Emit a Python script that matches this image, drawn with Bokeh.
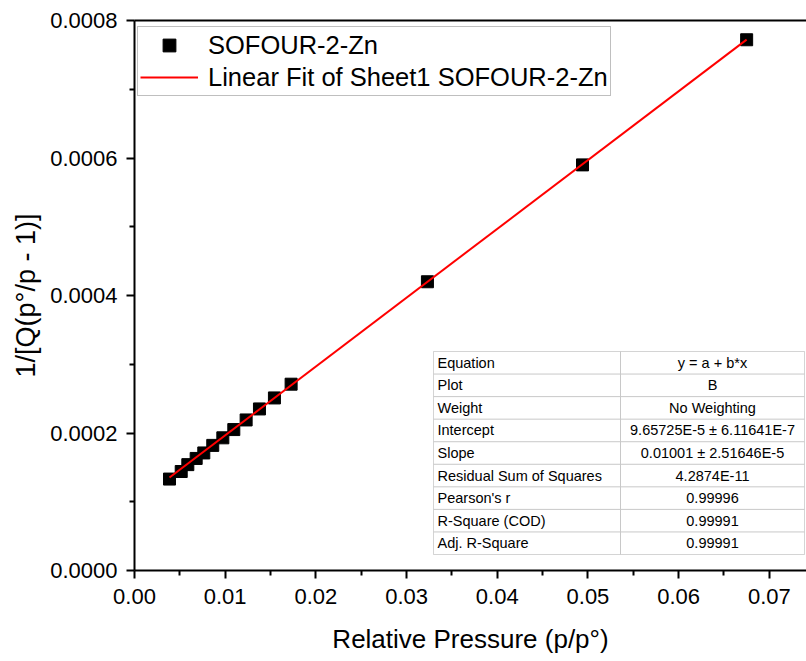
import numpy as np
from bokeh.plotting import figure
from bokeh.models import (Range1d, FixedTicker, LinearAxis, Legend, LegendItem,
                          Label, BoxAnnotation)
from bokeh.embed import file_html
from bokeh.resources import INLINE

# ---------------- data ----------------
series_name = "SOFOUR-2-Zn"
fit_name = "Linear Fit of Sheet1 SOFOUR-2-Zn"
rel_pressure = [0.00386, 0.00515, 0.00588, 0.00680, 0.00764, 0.00863, 0.00974,
                0.01095, 0.01231, 0.01378, 0.01543, 0.01727, 0.0323, 0.0494, 0.0675]
bet_value = [0.000133, 0.000144, 0.000154, 0.000163, 0.000171, 0.000182, 0.000193,
             0.000205, 0.000219, 0.000235, 0.000251, 0.000271, 0.000420, 0.000590, 0.000772]
fit_intercept = 9.65725e-5
fit_slope = 0.01001

x_ticks = [0.0, 0.01, 0.02, 0.03, 0.04, 0.05, 0.06, 0.07]
x_tick_labels = ["0.00", "0.01", "0.02", "0.03", "0.04", "0.05", "0.06", "0.07"]
y_ticks = [0.0, 0.0002, 0.0004, 0.0006, 0.0008]
y_tick_labels = ["0.0000", "0.0002", "0.0004", "0.0006", "0.0008"]

table_names = ["Equation", "Plot", "Weight", "Intercept", "Slope",
               "Residual Sum of Squares", "Pearson's r", "R-Square (COD)", "Adj. R-Square"]
table_values = ["y = a + b*x", "B", "No Weighting", "9.65725E-5 \u00b1 6.11641E-7",
                "0.01001 \u00b1 2.51646E-5", "4.2874E-11", "0.99996", "0.99991", "0.99991"]

# ---------------- layout ----------------
W, H = 806, 661
FL, FR, FT, FB = 134, 806, 20, 570          # frame edges in pixels
X0, X1 = 0.0, 0.0741
Y0, Y1 = 0.0, 0.0008
FONT = "Liberation Sans"

def px2x(px):
    return X0 + (px - FL) / (FR - FL) * (X1 - X0)

def px2y(py):
    return Y0 + (FB - py) / (FB - FT) * (Y1 - Y0)

p = figure(width=W, height=H, x_range=Range1d(X0, X1), y_range=Range1d(Y0, Y1),
           output_backend="svg", toolbar_location=None,
           min_border_left=FL, min_border_right=W - FR,
           min_border_top=FT, min_border_bottom=H - FB)
p.outline_line_color = None
p.xgrid.visible = False
p.ygrid.visible = False
p.background_fill_color = "white"
p.border_fill_color = "white"

def mids(t):
    return [(a + b) / 2 for a, b in zip(t[:-1], t[1:])] + [t[-1] + (t[1] - t[0]) / 2]

for ax, ticks, labels in ((p.xaxis[0], x_ticks, x_tick_labels),
                          (p.yaxis[0], y_ticks, y_tick_labels)):
    ax.ticker = FixedTicker(ticks=ticks, minor_ticks=mids(ticks))
    ax.major_label_overrides = dict(zip(ticks, labels))
    ax.axis_line_width = 2
    ax.major_tick_line_width = 2
    ax.minor_tick_line_width = 2
    ax.major_tick_out = 8
    ax.major_tick_in = 0
    ax.minor_tick_out = 5
    ax.minor_tick_in = 0
    ax.major_label_text_font = FONT
    ax.major_label_text_font_size = "22px"
    ax.major_label_text_color = "black"
    ax.axis_label_text_font = FONT
    ax.axis_label_text_font_style = "normal"
    ax.axis_label_text_color = "black"

p.xaxis.axis_label = "Relative Pressure (p/p\u00b0)"
p.yaxis.axis_label = "1/[Q(p\u00b0/p - 1)]"
p.xaxis.axis_label_text_font_size = "26px"
p.yaxis.axis_label_text_font_size = "27px"
p.xaxis.major_label_standoff = 10
p.xaxis.axis_label_standoff = 17
p.yaxis.major_label_standoff = 9
p.yaxis.axis_label_standoff = 6

top = LinearAxis(ticker=FixedTicker(ticks=[]), major_label_text_font_size="0px",
                 axis_line_width=2, major_tick_out=0, minor_tick_out=0)
p.add_layout(top, "above")

# ---------------- data marks ----------------
r_pts = p.scatter(rel_pressure, bet_value, marker="square", size=12,
                  fill_color="black", line_color="black")
fx = np.array([min(rel_pressure), max(rel_pressure)])
r_fit = p.line(fx, fit_intercept + fit_slope * fx, line_color="red", line_width=2)

legend = Legend(items=[LegendItem(label=series_name, renderers=[r_pts]),
                       LegendItem(label=fit_name, renderers=[r_fit])],
                location=(3, 474), orientation="vertical")
legend.label_text_font = FONT
legend.label_text_font_size = "25.5px"
legend.label_text_color = "black"
legend.label_height = 32
legend.glyph_height = 32
legend.glyph_width = 58
legend.label_standoff = 10
legend.spacing = 0
legend.padding = 2
legend.margin = 0
legend.border_line_color = "#808080"
legend.border_line_width = 1
legend.background_fill_color = "white"
legend.background_fill_alpha = 1.0
p.add_layout(legend)

# ---------------- fit table ----------------
TL, TR, TT, TB, TM = 433, 804, 351, 554, 620
rows = len(table_names)
rh = (TB - TT) / rows
p.add_layout(BoxAnnotation(left=px2x(TL), right=px2x(TR), top=px2y(TT), bottom=px2y(TB),
                           fill_color="white", fill_alpha=1.0, line_color="#707070",
                           line_width=1, level="annotation"))
for i in range(1, rows):
    yy = px2y(TT + i * rh)
    p.segment(x0=[px2x(TL)], x1=[px2x(TR)], y0=[yy], y1=[yy],
              line_color="#c8c8c8", line_width=1, level="overlay")
p.segment(x0=[px2x(TM)], x1=[px2x(TM)], y0=[px2y(TT)], y1=[px2y(TB)],
          line_color="#c8c8c8", line_width=1, level="overlay")
for i, (nm, vl) in enumerate(zip(table_names, table_values)):
    yc = px2y(TT + (i + 0.5) * rh)
    p.add_layout(Label(x=px2x(TL + 4), y=yc, text=nm, text_align="left",
                       text_baseline="middle", text_font=FONT,
                       text_font_size="14.5px", text_color="black", level="overlay"))
    p.add_layout(Label(x=px2x((TM + TR) / 2), y=yc, text=vl, text_align="center",
                       text_baseline="middle", text_font=FONT,
                       text_font_size="14.5px", text_color="black", level="overlay"))

open("out.html", "w").write(file_html(p, INLINE))
